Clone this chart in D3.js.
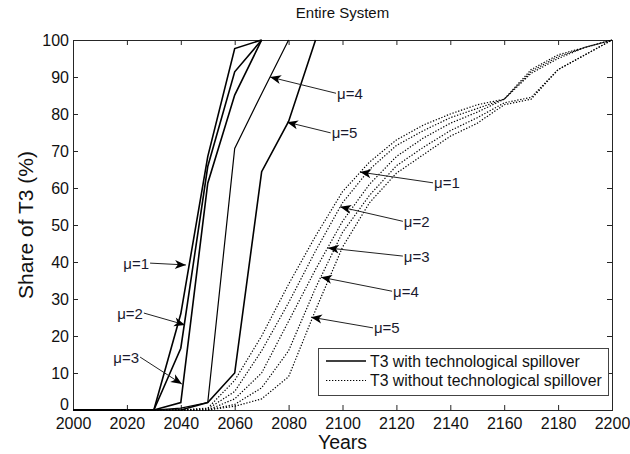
<!DOCTYPE html>
<html><head><meta charset="utf-8">
<script src="https://cdn.jsdelivr.net/npm/d3@7"></script>
<style>
html,body{margin:0;padding:0;background:#fff;}
svg{display:block;font-family:"Liberation Sans",Arial,sans-serif;}
</style></head>
<body>
<svg id="c" width="630" height="454"></svg>
<script>
// ---- data ----
const years = [2000,2010,2020,2030,2040,2050,2060,2070,2080,2090,2100,2110,2120,2130,2140,2150,2160,2170,2180,2190,2200];
const mus = ["μ=1","μ=2","μ=3","μ=4","μ=5"];
// T3 share with technological spillover (null after reaching 100)
const withSpill1 = [0,0,0,0,26,68.5,97.7,100,null,null,null,null,null,null,null,null,null,null,null,null,null];
const withSpill2 = [0,0,0,0,16.7,65.8,91.4,100,null,null,null,null,null,null,null,null,null,null,null,null,null];
const withSpill3 = [0,0,0,0,2,61.3,85.1,100,null,null,null,null,null,null,null,null,null,null,null,null,null];
const withSpill4 = [0,0,0,0,0.5,2,70.7,85.5,100,null,null,null,null,null,null,null,null,null,null,null,null];
const withSpill5 = [0,0,0,0,0,2,10,64.4,78,100,null,null,null,null,null,null,null,null,null,null,null];
// T3 share without technological spillover
const noSpill1 = [0,0,0,0,0,0.5,8,20,34,47,59,67,73,77,80,82.5,84,92,96,98,100];
const noSpill2 = [0,0,0,0,0,0.3,5,16,29,43,56,65,71.5,75.5,79,81.5,84,91.5,95.5,98,100];
const noSpill3 = [0,0,0,0,0,0,3,10,24,38,51,61,68.5,73.5,77.5,80.5,84,91,95,98,100];
const noSpill4 = [0,0,0,0,0,0,1.5,6,16,33,48,58,66,71,75.5,79,83,84.5,92,96,100];
const noSpill5 = [0,0,0,0,0,0,1,3,9,27,44,56,64,69,74,77.5,82.5,84,92,96,100];
const withSeries = [withSpill1,withSpill2,withSpill3,withSpill4,withSpill5];
const noSeries = [noSpill1,noSpill2,noSpill3,noSpill4,noSpill5];
const xTicks = [2000,2020,2040,2060,2080,2100,2120,2140,2160,2180,2200];
const yTicks = [0,10,20,30,40,50,60,70,80,90,100];
const legendLabels = ["T3 with technological spillover","T3 without technological spillover"];
// annotations: label, text side, tail [year,value], tip [year,value]
const annWith = [
  {t:"μ=1", side:"left",  tail:[2028.6,39.7], tip:[2041.9,39.2]},
  {t:"μ=2", side:"left",  tail:[2026.3,26.2], tip:[2041.6,23.0]},
  {t:"μ=3", side:"left",  tail:[2024.9,14.3], tip:[2040.4,7.0]},
  {t:"μ=4", side:"right", tail:[2097.6,85.6], tip:[2073.1,90.0]},
  {t:"μ=5", side:"right", tail:[2095.6,74.9], tip:[2079.4,77.8]}
];
const annNo = [
  {t:"μ=1", side:"right", tail:[2133.6,61.4], tip:[2106.5,64.3]},
  {t:"μ=2", side:"right", tail:[2122.4,51.0], tip:[2099.1,54.9]},
  {t:"μ=3", side:"right", tail:[2122.4,41.6], tip:[2094.6,43.8]},
  {t:"μ=4", side:"right", tail:[2118.4,32.1], tip:[2092.0,35.9]},
  {t:"μ=5", side:"right", tail:[2111.3,22.2], tip:[2088.3,25.1]}
];

// ---- layout ----
const svg = d3.select("#c");
svg.append("rect").attr("width",630).attr("height",454).attr("fill","#fff");
const L=73, R=612, T=40, B=410;
const x = d3.scaleLinear().domain([2000,2200]).range([L,R]);
const y = d3.scaleLinear().domain([0,100]).range([B,T]);
const axisColor="#262626";

// axes
function styleAxis(g, showLabels){
  g.select(".domain").remove();
  g.selectAll(".tick line").attr("stroke",axisColor).attr("stroke-width",1);
  g.selectAll(".tick text").attr("fill","#111").style("font-size","16px");
  if(!showLabels) g.selectAll(".tick text").remove();
}
svg.append("g").attr("transform",`translate(0,${B})`)
  .call(d3.axisBottom(x).tickValues(xTicks).tickFormat(d3.format("d")).tickSize(-5).tickPadding(8))
  .call(g=>styleAxis(g,true));
svg.append("g").attr("transform",`translate(0,${T})`)
  .call(d3.axisTop(x).tickValues(xTicks).tickSize(-5))
  .call(g=>styleAxis(g,false));
svg.append("g").attr("transform",`translate(${L},0)`)
  .call(d3.axisLeft(y).tickValues(yTicks).tickSize(-5).tickPadding(4))
  .call(g=>styleAxis(g,true))
  .call(g=>g.selectAll(".tick text").filter(d=>d===0).attr("dy","-0.05em"));
svg.append("g").attr("transform",`translate(${R},0)`)
  .call(d3.axisRight(y).tickValues(yTicks).tickSize(-5))
  .call(g=>styleAxis(g,false));
svg.append("rect").attr("x",L+0.5).attr("y",T+0.5).attr("width",R-L).attr("height",B-T)
  .attr("fill","none").attr("stroke",axisColor).attr("stroke-width",1);

// lines
const line = d3.line().defined(d=>d[1]!==null).x(d=>x(d[0])).y(d=>y(d[1]));
noSeries.forEach(s=>{
  svg.append("path").datum(years.map((yr,i)=>[yr,s[i]]))
    .attr("d",line).attr("fill","none").attr("stroke","#000")
    .attr("stroke-width",1.2).attr("stroke-dasharray","1.3,1.7");
});
withSeries.forEach((s,k)=>{
  svg.append("path").datum(years.map((yr,i)=>[yr,s[i]]))
    .attr("d",line).attr("fill","none").attr("stroke","#000")
    .attr("stroke-width",k===3?1.2:1.6).attr("stroke-linejoin","miter");
});

// annotations
function drawAnn(a){
  const x1=x(a.tail[0]), y1=y(a.tail[1]), x2=x(a.tip[0]), y2=y(a.tip[1]);
  svg.append("line").attr("x1",x1).attr("y1",y1).attr("x2",x2).attr("y2",y2)
    .attr("stroke","#222").attr("stroke-width",1);
  const ang=Math.atan2(y2-y1,x2-x1), len=11, hw=4.5, notch=3;
  const ux=Math.cos(ang), uy=Math.sin(ang), px=-uy, py=ux;
  const bx=x2-ux*len, by=y2-uy*len;
  const pts=[[x2,y2],[bx+px*hw,by+py*hw],[x2-ux*(len-notch),y2-uy*(len-notch)],[bx-px*hw,by-py*hw]];
  svg.append("path").attr("d","M"+pts.map(p=>p.join(",")).join("L")+"Z").attr("fill","#000");
  svg.append("text").attr("x",a.side==="left"?x1-1:x1+1).attr("y",y1)
    .attr("text-anchor",a.side==="left"?"end":"start").attr("dominant-baseline","central")
    .attr("fill","#1a1a2e").style("font-size","15px").text(a.t);
}
annWith.forEach(drawAnn);
annNo.forEach(drawAnn);

// legend
const lg = svg.append("g");
lg.append("rect").attr("x",318.5).attr("y",348.5).attr("width",290).attr("height",47)
  .attr("fill","#fff").attr("stroke","#444").attr("stroke-width",1);
legendLabels.forEach((lab,i)=>{
  const ly = 361 + i*19.5;
  lg.append("line").attr("x1",326).attr("x2",366).attr("y1",ly).attr("y2",ly)
    .attr("stroke","#000").attr("stroke-width",i===0?1.6:1.2)
    .attr("stroke-dasharray",i===0?null:"1.3,1.7");
  lg.append("text").attr("x",370).attr("y",ly).attr("dominant-baseline","central")
    .attr("fill","#111").style("font-size","15.8px").text(lab);
});

// titles
svg.append("text").attr("x",(L+R)/2).attr("y",12).attr("text-anchor","middle")
  .attr("dominant-baseline","central").attr("fill","#111").style("font-size","15px").text("Entire System");
svg.append("text").attr("x",(L+R)/2).attr("y",449).attr("text-anchor","middle")
  .attr("fill","#111").style("font-size","19.5px").text("Years");
svg.append("text").attr("transform",`translate(33,${(T+B)/2}) rotate(-90)`).attr("text-anchor","middle")
  .attr("fill","#111").style("font-size","21px").text("Share of T3 (%)");
</script>
</body></html>
